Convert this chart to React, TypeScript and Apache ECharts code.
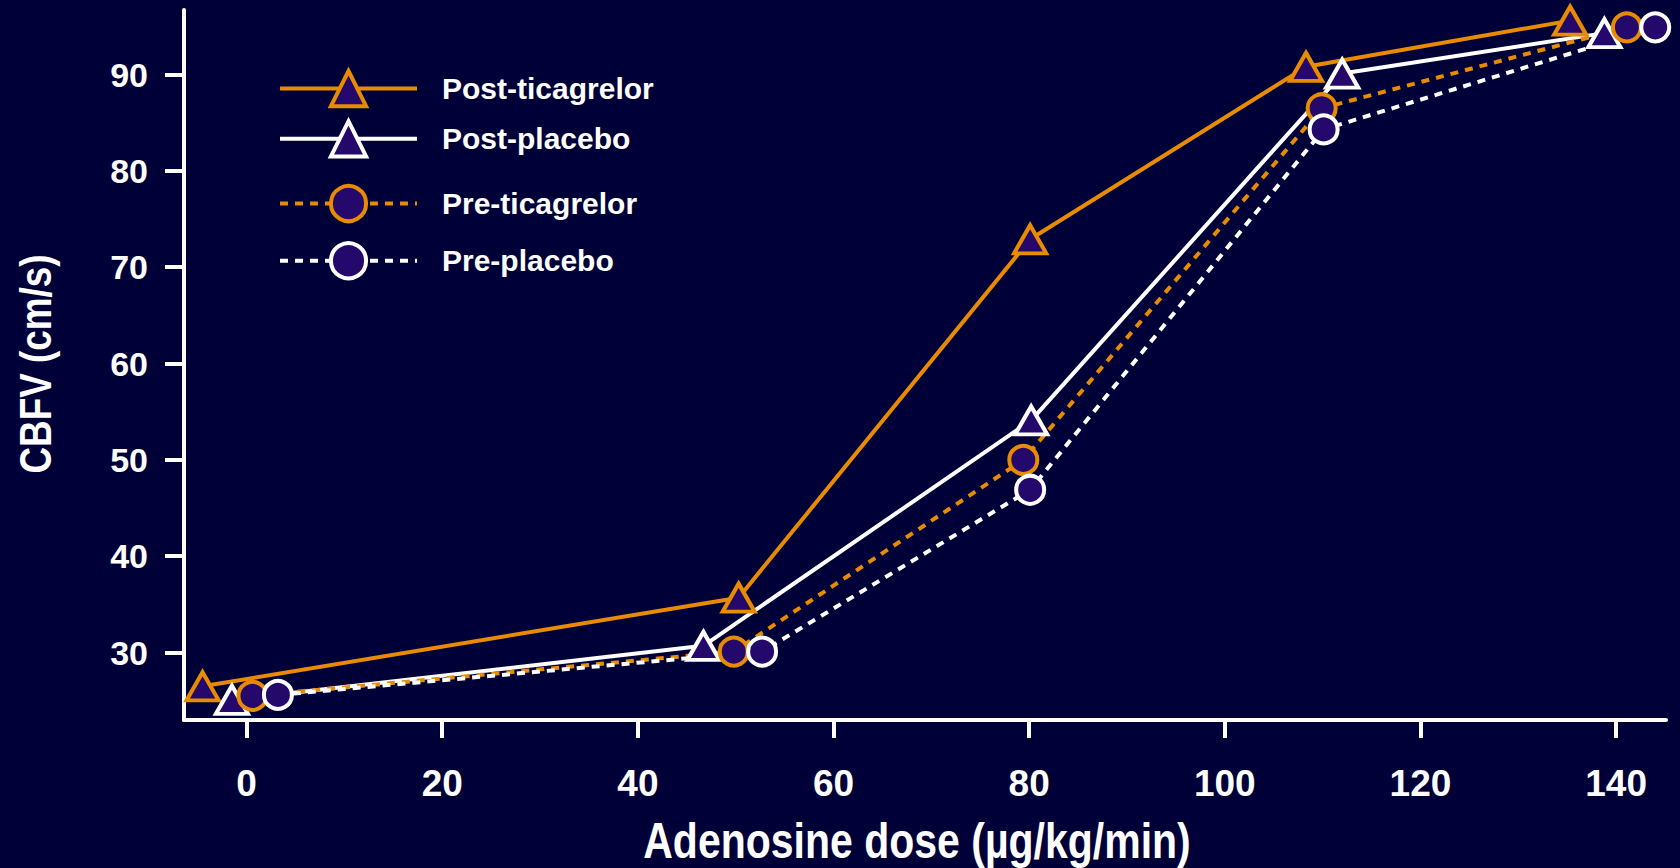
import React, { useEffect, useRef } from "react";
import * as echarts from "echarts";

// ---- data ----
const doseTicks = [0, 20, 40, 60, 80, 100, 120, 140];
const cbfvTicks = [30, 40, 50, 60, 70, 80, 90];

const xTitle = "Adenosine dose (µg/kg/min)";
const yTitle = "CBFV (cm/s)";

const seriesNames = ["Post-ticagrelor", "Post-placebo", "Pre-ticagrelor", "Pre-placebo"];

const postTicagrelorDose = [-4.5, 50.3, 80.1, 108.3, 135.3];
const postTicagrelorCbfv = [26.5, 35.7, 72.9, 90.8, 95.6];

const postPlaceboDose = [-1.5, 46.7, 80.2, 112.0, 138.8];
const postPlaceboCbfv = [25.1, 30.7, 54.1, 90.1, 94.3];

const preTicagrelorDose = [0.6, 49.8, 79.4, 109.9, 141.1];
const preTicagrelorCbfv = [25.5, 30.1, 50.0, 86.5, 94.9];

const prePlaceboDose = [3.2, 52.7, 80.1, 110.1, 144.0];
const prePlaceboCbfv = [25.6, 30.1, 46.9, 84.3, 94.9];

const BG = "#000038";
const ORANGE = "#E88B00";
const WHITE = "#FFFFFF";
const FILL = "#24086C";
const FONT = '"Liberation Sans", Arial, sans-serif';

const pairs = (xs: number[], ys: number[]) => xs.map((x, i) => [x, ys[i]]);

export default function App() {
  const ref = useRef<HTMLDivElement>(null);

  useEffect(() => {
    document.body.style.margin = "0";
    document.body.style.background = BG;
    if (!ref.current) return;
    const chart = echarts.init(ref.current, null, { renderer: "svg" });

    const triSize = [32, 28];
    const circSize = 28;

    const mk = (
      name: string,
      data: number[][],
      color: string,
      symbol: string,
      dotted: boolean
    ) => ({
      name,
      type: "line",
      data,
      symbol,
      symbolSize: symbol === "triangle" ? triSize : circSize,
      showAllSymbol: true,
      itemStyle: { color: FILL, borderColor: color, borderWidth: 4 },
      lineStyle: { color, width: 4, type: dotted ? [8, 7] : "solid" },
      emphasis: { disabled: true },
    });

    const legendItem = (name: string, color: string, dotted: boolean) => ({
      name,
      itemStyle: { color: FILL, borderColor: color, borderWidth: 4 },
      lineStyle: { color, width: 4, type: dotted ? [8, 7] : "solid" },
    });

    const legendText = {
      color: WHITE,
      fontSize: 30,
      fontWeight: "bold",
      fontFamily: FONT,
      padding: [0, 0, 0, 20],
    };

    chart.setOption({
      animation: false,
      backgroundColor: BG,
      grid: { left: 184, right: 14, top: 10, bottom: 148, containLabel: false },
      graphic: [
        {
          type: "text",
          x: 917,
          y: 841,
          scaleX: 0.82,
          style: {
            text: xTitle,
            fill: WHITE,
            font: `bold 50px ${FONT}`,
            align: "center",
            verticalAlign: "middle",
          },
        },
        {
          type: "text",
          x: 36,
          y: 364,
          rotation: Math.PI / 2,
          scaleX: 0.82,
          style: {
            text: yTitle,
            fill: WHITE,
            font: `bold 45px ${FONT}`,
            align: "center",
            verticalAlign: "middle",
          },
        },
      ],
      legend: [
        {
          orient: "vertical",
          left: 278,
          top: 69,
          padding: 0,
          itemWidth: 137,
          itemHeight: 44,
          itemGap: 11,
          selectedMode: false,
          textStyle: legendText,
          data: [
            legendItem(seriesNames[0], ORANGE, false),
            legendItem(seriesNames[1], WHITE, false),
          ],
        },
        {
          orient: "vertical",
          left: 278,
          top: 184,
          padding: 0,
          itemWidth: 137,
          itemHeight: 44,
          itemGap: 18,
          selectedMode: false,
          textStyle: legendText,
          data: [
            legendItem(seriesNames[2], ORANGE, true),
            legendItem(seriesNames[3], WHITE, true),
          ],
        },
      ],
      xAxis: {
        type: "value",
        min: -6.4,
        max: 145.1,
        axisLine: { show: true, onZero: false, lineStyle: { color: WHITE, width: 4 } },
        axisTick: {
          show: true,
          length: 18,
          lineStyle: { color: WHITE, width: 4 },
          customValues: doseTicks,
        },
        axisLabel: {
          color: WHITE,
          fontSize: 37,
          fontWeight: "bold",
          fontFamily: FONT,
          margin: 45,
          customValues: doseTicks,
        },
        splitLine: { show: false },
      },
      yAxis: {
        type: "value",
        min: 23.0,
        max: 96.7,
        axisLine: { show: true, onZero: false, lineStyle: { color: WHITE, width: 4 } },
        axisTick: {
          show: true,
          length: 19,
          lineStyle: { color: WHITE, width: 4 },
          customValues: cbfvTicks,
        },
        axisLabel: {
          color: WHITE,
          fontSize: 34,
          fontWeight: "bold",
          fontFamily: FONT,
          margin: 36,
          customValues: cbfvTicks,
        },
        splitLine: { show: false },
      },
      series: [
        mk(seriesNames[0], pairs(postTicagrelorDose, postTicagrelorCbfv), ORANGE, "triangle", false),
        mk(seriesNames[1], pairs(postPlaceboDose, postPlaceboCbfv), WHITE, "triangle", false),
        mk(seriesNames[2], pairs(preTicagrelorDose, preTicagrelorCbfv), ORANGE, "circle", true),
        mk(seriesNames[3], pairs(prePlaceboDose, prePlaceboCbfv), WHITE, "circle", true),
      ],
    });

    return () => chart.dispose();
  }, []);

  return <div ref={ref} style={{ width: 1680, height: 868 }} />;
}
